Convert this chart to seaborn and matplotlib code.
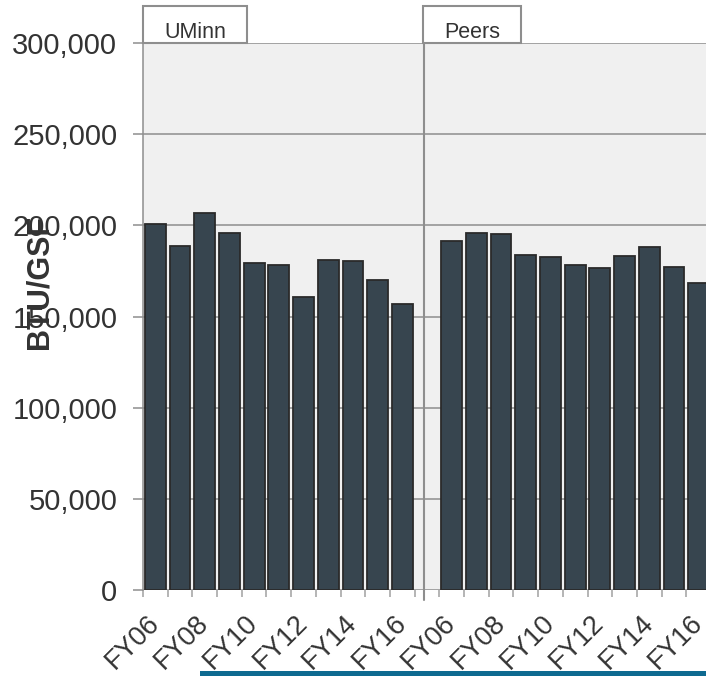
import numpy as np
import pandas as pd
import matplotlib
matplotlib.use("Agg")
import matplotlib.pyplot as plt
from matplotlib.patches import Rectangle
from matplotlib.ticker import FuncFormatter
import seaborn as sns

# ---- data ----
years = ["FY06", "FY07", "FY08", "FY09", "FY10", "FY11",
         "FY12", "FY13", "FY14", "FY15", "FY16"]
uminn = [200500, 188900, 206900, 195800, 179300, 178000,
         160900, 181100, 180200, 169800, 156900]
peers = [191300, 196000, 195400, 184000, 182500, 178000,
         176600, 183400, 188300, 177100, 168400]
groups = ["UMinn", "Peers"]
y_ticks = [0, 50000, 100000, 150000, 200000, 250000, 300000]
y_label = "BTU/GSF"

rows = []
for g, vals in zip(groups, [uminn, peers]):
    for yr, v in zip(years, vals):
        rows.append({"group": g, "year": yr, "slot": f"{g}|{yr}", "value": v})
df = pd.DataFrame(rows)
order = [f"{groups[0]}|{y}" for y in years] + ["__gap__"] + [f"{groups[1]}|{y}" for y in years]

sns.set_theme(style="white")
plt.rcParams["font.family"] = ["Liberation Sans", "DejaVu Sans"]

W, H = 706, 676
fig = plt.figure(figsize=(W / 100, H / 100), dpi=100)
fig.patch.set_facecolor("white")
ax = fig.add_axes([143 / W, 86 / H, 568 / W, 547 / H])
ax.set_facecolor("#f0f0f0")

sns.barplot(data=df, x="slot", y="value", order=order, color="#37454f",
            saturation=1, width=0.84, edgecolor="#2a2a2a", linewidth=1.3,
            errorbar=None, ax=ax)

ax.set_xlim(-0.5, len(order) - 0.5)
ax.set_ylim(y_ticks[0], y_ticks[-1])
ax.set_axisbelow(True)

grid_c = "#8e8e8e"
ax.set_yticks(y_ticks)
ax.yaxis.set_major_formatter(FuncFormatter(lambda v, p: f"{int(v):,}"))
ax.grid(axis="y", color=grid_c, linewidth=1.1)
ax.grid(axis="x", visible=False)
ax.tick_params(axis="y", left=True, length=7.2, width=1.1, color=grid_c,
               pad=11.3, labelsize=21, labelcolor="#333333")

# x labels: every other year in each group
pos, labs = [], []
for gi in range(2):
    off = gi * (len(years) + 1)
    for i, yr in enumerate(years):
        if i % 2 == 0:
            pos.append(off + i)
            labs.append(yr)
ax.set_xticks(pos)
ax.set_xticklabels(labs, rotation=45, ha="right", va="center", rotation_mode="anchor")
ax.tick_params(axis="x", which="major", bottom=True, length=0, pad=21,
               labelsize=19.5, labelcolor="#333333")
ax.set_xticks(np.arange(-0.5, len(order), 1.0), minor=True)
ax.tick_params(axis="x", which="minor", bottom=True, length=5.3, width=1.1,
               color="#a0a0a0")
ax.set_xlabel("")
ax.set_ylabel("")

for s in ["top", "right", "bottom"]:
    ax.spines[s].set_visible(False)
ax.spines["left"].set_color(grid_c)
ax.spines["left"].set_linewidth(1.1)

# panel divider
div_x = len(years) - 0.12
ax.axvline(div_x, ymin=-10 / 547, ymax=1, color=grid_c, linewidth=1.5, clip_on=False)

# facet tabs
for (x0, x1), name in zip([(143, 247), (423, 521)], groups):
    fig.add_artist(Rectangle((x0 / W, (H - 43) / H), (x1 - x0) / W, 37 / H,
                             transform=fig.transFigure, facecolor="white",
                             edgecolor=grid_c, linewidth=1.5))
    fig.text((x0 + x1) / 2 / W, (H - 38) / H, name, ha="center", va="baseline",
             fontsize=15.5, color="#333333")

# y label
fig.text(40 / W, (H - 282) / H, y_label, rotation=90, ha="center", va="center",
         fontsize=22, fontweight="bold", color="#333333")

# bottom accent bar
fig.add_artist(Rectangle((200 / W, 0), (W - 200) / W, 5.5 / H,
                         transform=fig.transFigure, facecolor="#0e6a90",
                         edgecolor="none"))

fig.savefig("out.png", dpi=100)
